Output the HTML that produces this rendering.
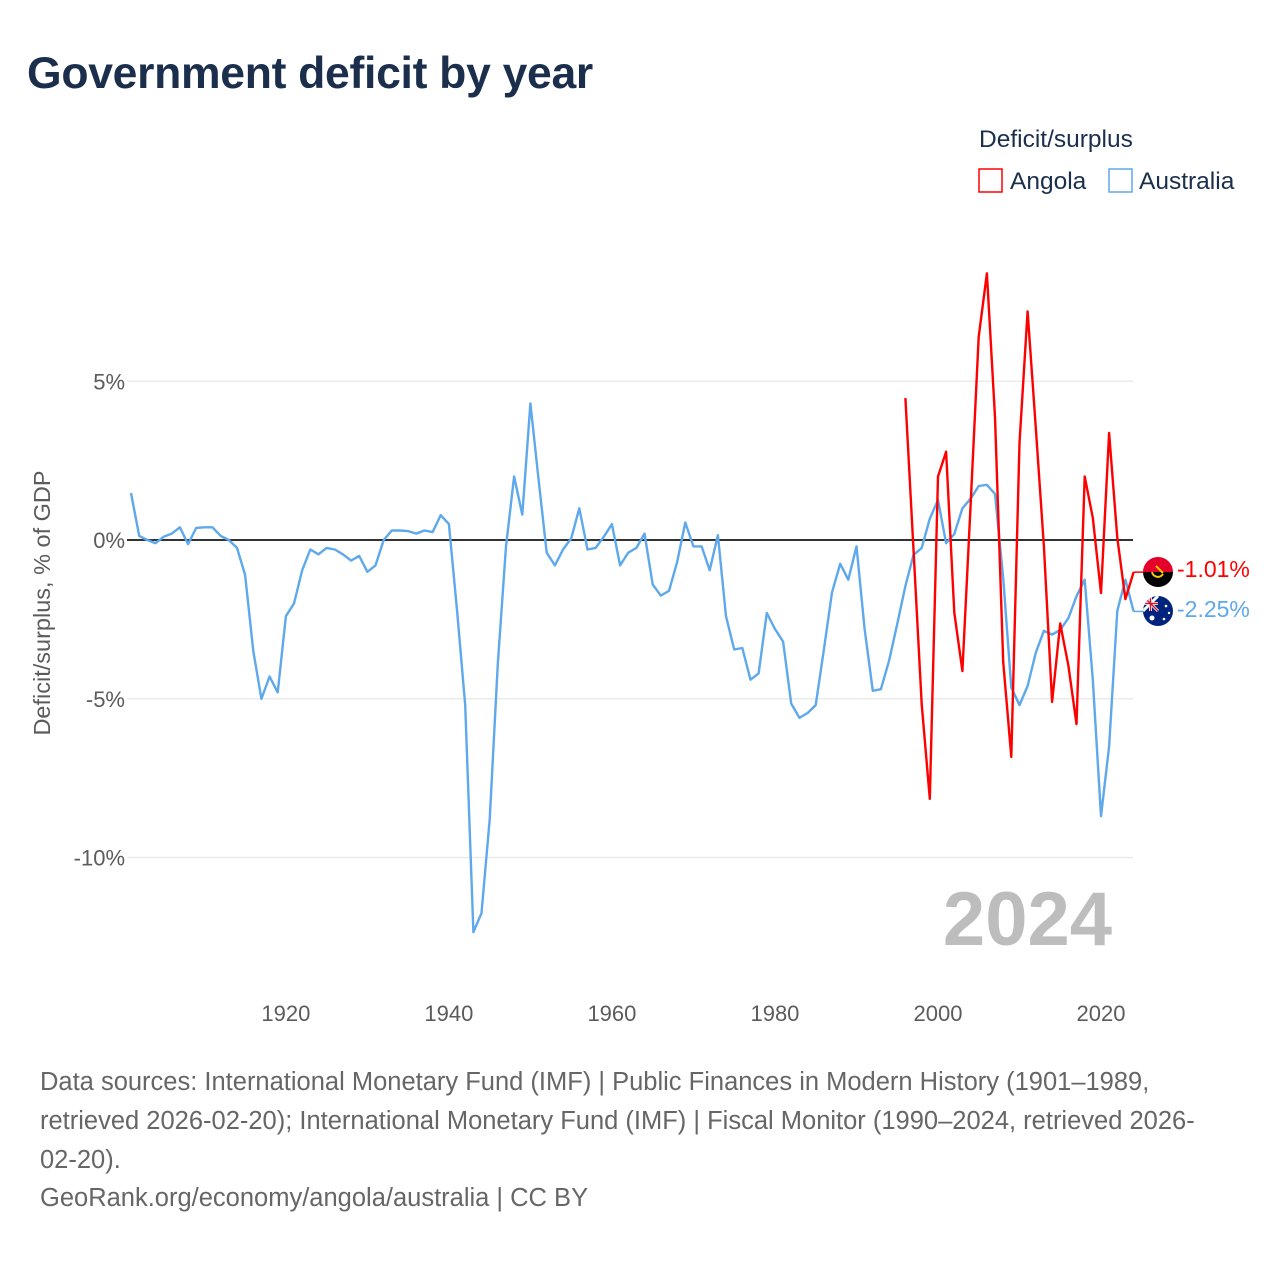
<!DOCTYPE html>
<html><head><meta charset="utf-8"><style>
html,body{margin:0;padding:0;background:#fff;}
body{width:1280px;height:1280px;position:relative;overflow:hidden;font-family:"Liberation Sans",sans-serif;}
#title{position:absolute;left:27px;top:49px;font-size:44.5px;font-weight:bold;color:#1b2f4d;margin:0;letter-spacing:-0.3px;}
.foot{position:absolute;left:40px;font-size:25.5px;color:#666;white-space:nowrap;}
</style></head><body>
<h1 id="title">Government deficit by year</h1>
<svg id="chart" width="1280" height="1280" style="position:absolute;left:0;top:0"></svg>
<div class="foot" style="top:1068px">Data sources: International Monetary Fund (IMF) | Public Finances in Modern History (1901–1989,</div>
<div class="foot" style="top:1107px">retrieved 2026-02-20); International Monetary Fund (IMF) | Fiscal Monitor (1990–2024, retrieved 2026-</div>
<div class="foot" style="top:1146px">02-20).</div>
<div class="foot" style="top:1184px">GeoRank.org/economy/angola/australia | CC BY</div>
<script>
const ausYears = [];
for (let y = 1901; y <= 2024; y++) ausYears.push(y);
const ausValues = [1.48,0.13,0,-0.1,0.1,0.2,0.4,-0.13,0.38,0.4,0.4,0.13,0,-0.25,-1.1,-3.5,-5.0,-4.3,-4.8,-2.4,
-2.0,-0.95,-0.3,-0.45,-0.25,-0.3,-0.45,-0.65,-0.5,-1.0,-0.8,0,0.3,0.3,0.28,0.2,0.3,0.25,0.78,0.5,
-2.2,-5.2,-12.35,-11.75,-8.8,-3.9,-0.2,2.0,0.8,4.3,1.9,-0.4,-0.8,-0.3,0.05,1.0,-0.3,-0.25,0.1,0.5,
-0.8,-0.4,-0.25,0.2,-1.4,-1.75,-1.6,-0.7,0.55,-0.2,-0.2,-0.95,0.15,-2.4,-3.45,-3.4,-4.4,-4.2,-2.3,-2.8,
-3.2,-5.15,-5.6,-5.45,-5.2,-3.45,-1.65,-0.75,-1.25,-0.2,-2.8,-4.75,-4.7,-3.8,-2.65,-1.45,-0.47,-0.25,0.67,1.26,
-0.1,0.19,1.0,1.3,1.7,1.74,1.45,-1.2,-4.65,-5.2,-4.6,-3.55,-2.86,-2.98,-2.83,-2.46,-1.77,-1.25,-4.4,-8.7,
-6.5,-2.23,-1.25,-2.25];
const angYears = [];
for (let y = 1996; y <= 2024; y++) angYears.push(y);
const angValues = [4.47,-0.3,-5.17,-8.15,2.0,2.78,-2.29,-4.13,1.1,6.4,8.4,3.87,-3.84,-6.83,3.06,7.2,3.53,-0.2,-5.1,-2.63,
-3.96,-5.8,2.0,0.7,-1.67,3.37,0.07,-1.86,-1.01];
const yTicks = [5,0,-5,-10];
const yTickLabels = ["5%","0%","-5%","-10%"];
const xTicks = [1920,1940,1960,1980,2000,2020];

const NS = "http://www.w3.org/2000/svg";
const svg = document.getElementById('chart');
const X0 = 131, X1 = 1133.6, YR0 = 1901, YR1 = 2024;
const xs = yr => X0 + (yr - YR0) * (X1 - X0) / (YR1 - YR0);
const ys = v => 540 - v * 31.75;
function mk(tag, attrs, parent) {
  const e = document.createElementNS(NS, tag);
  for (const k in attrs) e.setAttribute(k, attrs[k]);
  (parent || svg).appendChild(e);
  return e;
}
yTicks.forEach((t, i) => {
  if (t !== 0) {
    const g = mk('line', {x1:127, x2:1133, y1:ys(t), y2:ys(t), stroke:'#ebebeb', 'stroke-width':1.5});
    
    
  }
  const tx = mk('text', {x:125, y:ys(t)+8, 'text-anchor':'end', 'font-size':22, fill:'#5b5b5b', 'font-family':'Liberation Sans, sans-serif'});
  tx.textContent = yTickLabels[i];
  
  
});
xTicks.forEach(t => {
  const tx = mk('text', {x:xs(t), y:1021, 'text-anchor':'middle', 'font-size':22, fill:'#5b5b5b', 'font-family':'Liberation Sans, sans-serif'});
  tx.textContent = String(t);
  
  
});
const yt = mk('text', {x:0, y:0, transform:'translate(50,603) rotate(-90)', 'text-anchor':'middle', 'font-size':23.5, fill:'#5b5b5b', 'font-family':'Liberation Sans, sans-serif'});
yt.textContent = 'Deficit/surplus, % of GDP';


const zl = mk('line', {x1:127, x2:1133, y1:ys(0), y2:ys(0), stroke:'#333', 'stroke-width':2});


const yr = mk('text', {x:1112, y:945, 'text-anchor':'end', 'font-size':76, 'font-weight':'bold', fill:'#bdbdbd', 'font-family':'Liberation Sans, sans-serif'});
yr.textContent = '2024';


function line(years, vals, color, name) {
  const pts = years.map((y, i) => xs(y).toFixed(1) + ',' + ys(vals[i]).toFixed(1));
  const p = mk('polyline', {points:pts.join(' '), fill:'none', stroke:color, 'stroke-width':2.4, 'stroke-linejoin':'round'});
  
  
}
line(ausYears, ausValues, '#5ea8ec', 'australia-line');
line(angYears, angValues, '#ff0000', 'angola-line');
const angLast = angValues[angValues.length-1], ausLast = ausValues[ausValues.length-1];
const c1 = mk('path', {d:`M${xs(2024)},${ys(angLast)} L1142,${ys(angLast)} L1146,572`, fill:'none', stroke:'#ff0000', 'stroke-width':1.5});


const c2 = mk('path', {d:`M${xs(2024)},${ys(ausLast)} L1144,${ys(ausLast)}`, fill:'none', stroke:'#5ea8ec', 'stroke-width':1.5});


const fa = mk('g', {});


mk('defs', {}, fa).innerHTML = '<clipPath id="ca"><circle cx="1158" cy="572" r="15"/></clipPath><clipPath id="cb"><circle cx="1158" cy="611" r="15"/></clipPath>';
mk('rect', {x:1143, y:557, width:30, height:15, fill:'#e4002b', 'clip-path':'url(#ca)'}, fa);
mk('rect', {x:1143, y:572, width:30, height:15, fill:'#000', 'clip-path':'url(#ca)'}, fa);
mk('path', {d:'M1152,572 a6,6 0 0 0 11,2 M1156,566 l7,7', stroke:'#ffcb00', 'stroke-width':2, fill:'none'}, fa);
const fb = mk('g', {});


mk('circle', {cx:1158, cy:611, r:15, fill:'#00247d'}, fb);
mk('path', {d:'M1143,596 L1158,611 M1158,596 L1143,611 M1150.5,596 V611 M1143,603.5 H1158', stroke:'#fff', 'stroke-width':3, 'clip-path':'url(#cb)'}, fb);
mk('path', {d:'M1150.5,596 V611 M1143,603.5 H1158 M1143,596 L1158,611', stroke:'#cf142b', 'stroke-width':1.4, 'clip-path':'url(#cb)'}, fb);
mk('circle', {cx:1152, cy:618, r:2.5, fill:'#fff'}, fb);
mk('circle', {cx:1166, cy:606, r:1.3, fill:'#fff'}, fb);
mk('circle', {cx:1164, cy:619, r:1.3, fill:'#fff'}, fb);
mk('circle', {cx:1169, cy:613, r:1.2, fill:'#fff'}, fb);
const l1 = mk('text', {x:1177, y:577, 'font-size':23, fill:'#ff0000', 'font-family':'Liberation Sans, sans-serif'});
l1.textContent = '-1.01%';


const l2 = mk('text', {x:1177, y:617, 'font-size':23, fill:'#5ea8ec', 'font-family':'Liberation Sans, sans-serif'});
l2.textContent = '-2.25%';


const lt = mk('text', {x:979, y:147, 'font-size':24.5, fill:'#1b2f4d', 'font-family':'Liberation Sans, sans-serif'});
lt.textContent = 'Deficit/surplus';


const la = mk('rect', {x:979, y:169, width:23, height:23, fill:'none', stroke:'#ff0000', 'stroke-width':1.5});


const lta = mk('text', {x:1010, y:189, 'font-size':24.5, fill:'#1b2f4d', 'font-family':'Liberation Sans, sans-serif'});
lta.textContent = 'Angola';


const lb = mk('rect', {x:1109, y:169, width:23, height:23, fill:'none', stroke:'#5ea8ec', 'stroke-width':1.5});


const ltb = mk('text', {x:1139, y:189, 'font-size':24.5, fill:'#1b2f4d', 'font-family':'Liberation Sans, sans-serif'});
ltb.textContent = 'Australia';


</script>
</body></html>
